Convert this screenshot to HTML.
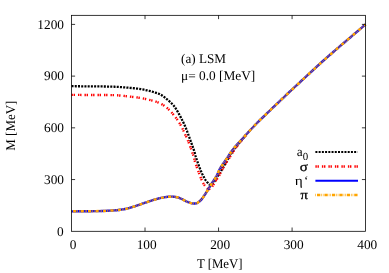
<!DOCTYPE html>
<html><head><meta charset="utf-8"><title>chart</title>
<style>
html,body{margin:0;padding:0;background:#fff;}
svg{display:block;will-change:transform;}
text{text-rendering:geometricPrecision;font-family:"Liberation Serif",serif;font-size:13.33px;fill:#000;}
</style></head><body>
<svg width="389" height="273" viewBox="0 0 389 273">
<rect width="389" height="273" fill="#fff"/>
<g fill="none" stroke-width="2" stroke-linejoin="round">
<path d="M71.50,86.20 L75.72,86.23 L81.74,86.28 L88.79,86.33 L96.04,86.39 L102.72,86.46 L108.00,86.55 L111.79,86.64 L114.70,86.74 L117.02,86.85 L119.05,86.98 L121.08,87.13 L123.40,87.30 L126.04,87.50 L128.76,87.73 L131.48,87.98 L134.12,88.25 L136.59,88.52 L138.80,88.80 L140.74,89.08 L142.47,89.38 L144.03,89.69 L145.46,90.00 L146.80,90.30 L148.10,90.60 L149.31,90.88 L150.40,91.16 L151.40,91.42 L152.36,91.70 L153.31,91.99 L154.30,92.30 L155.32,92.61 L156.34,92.92 L157.36,93.24 L158.38,93.59 L159.39,94.01 L160.40,94.50 L161.40,95.08 L162.39,95.72 L163.38,96.42 L164.37,97.17 L165.37,97.97 L166.40,98.80 L167.49,99.70 L168.63,100.67 L169.79,101.69 L170.91,102.72 L171.97,103.73 L172.90,104.70 L173.69,105.60 L174.37,106.45 L174.97,107.29 L175.53,108.14 L176.10,109.03 L176.70,110.00 L177.34,111.07 L178.00,112.23 L178.66,113.42 L179.30,114.63 L179.92,115.80 L180.50,116.90 L181.04,117.91 L181.54,118.87 L182.02,119.80 L182.48,120.71 L182.94,121.64 L183.40,122.60 L183.86,123.58 L184.31,124.56 L184.76,125.56 L185.21,126.57 L185.65,127.62 L186.10,128.70 L186.54,129.81 L186.97,130.93 L187.40,132.07 L187.84,133.27 L188.30,134.54 L188.80,135.90 L189.35,137.41 L189.96,139.07 L190.58,140.80 L191.20,142.52 L191.78,144.15 L192.30,145.60 L192.75,146.86 L193.14,147.98 L193.51,149.01 L193.84,149.99 L194.17,150.97 L194.50,152.00 L194.79,153.00 L195.03,153.91 L195.26,154.82 L195.51,155.82 L195.85,156.99 L196.30,158.40 L196.90,160.16 L197.61,162.23 L198.39,164.47 L199.21,166.73 L200.03,168.89 L200.80,170.80 L201.54,172.49 L202.28,174.08 L203.02,175.56 L203.74,176.92 L204.44,178.17 L205.10,179.30 L205.74,180.30 L206.36,181.16 L206.96,181.91 L207.53,182.55 L208.04,183.11 L208.50,183.60 L208.88,184.00 L209.19,184.30 L209.45,184.52 L209.69,184.66 L209.93,184.75 L210.20,184.80 L210.49,184.80 L210.77,184.74 L211.06,184.63 L211.36,184.47 L211.67,184.25 L212.00,184.00 L212.34,183.71 L212.70,183.39 L213.06,183.01 L213.45,182.58 L213.86,182.08 L214.30,181.50 L214.77,180.82 L215.27,180.06 L215.80,179.22 L216.35,178.33 L216.92,177.42 L217.50,176.50 L218.09,175.61 L218.67,174.74 L219.28,173.84 L219.93,172.87 L220.63,171.77 L221.40,170.50 L222.26,169.01 L223.18,167.34 L224.16,165.55 L225.19,163.69 L226.24,161.82 L227.30,160.00 L228.39,158.19 L229.53,156.33 L230.70,154.46 L231.88,152.62 L233.05,150.85 L234.20,149.20 L235.35,147.66 L236.51,146.20 L237.66,144.81 L238.79,143.48 L239.88,142.22 L240.90,141.00 L241.90,139.79 L242.91,138.59 L243.87,137.44 L244.74,136.40 L245.46,135.54 L246.00,134.90" stroke="#000" stroke-width="2.3" stroke-dasharray="2.05 1.18"/>
<path d="M71.50,94.90 L76.11,94.91 L82.74,94.93 L90.48,94.95 L98.38,94.98 L105.53,95.03 L111.00,95.10 L114.60,95.19 L117.03,95.29 L118.71,95.40 L120.05,95.54 L121.47,95.70 L123.40,95.90 L125.86,96.14 L128.54,96.42 L131.29,96.73 L134.01,97.06 L136.55,97.38 L138.80,97.70 L140.74,98.02 L142.47,98.34 L144.03,98.67 L145.46,98.99 L146.80,99.31 L148.10,99.60 L149.31,99.86 L150.40,100.10 L151.40,100.32 L152.36,100.55 L153.31,100.80 L154.30,101.10 L155.33,101.43 L156.35,101.79 L157.38,102.16 L158.39,102.57 L159.40,103.01 L160.40,103.50 L161.40,104.03 L162.40,104.61 L163.39,105.22 L164.36,105.86 L165.30,106.52 L166.20,107.20 L167.05,107.90 L167.86,108.61 L168.64,109.36 L169.40,110.12 L170.15,110.90 L170.90,111.70 L171.65,112.53 L172.38,113.38 L173.11,114.25 L173.82,115.13 L174.52,116.02 L175.20,116.90 L175.87,117.78 L176.53,118.66 L177.18,119.54 L177.81,120.42 L178.42,121.31 L179.00,122.20 L179.55,123.09 L180.07,123.97 L180.56,124.85 L181.04,125.74 L181.52,126.66 L182.00,127.60 L182.48,128.58 L182.96,129.60 L183.42,130.63 L183.89,131.67 L184.35,132.70 L184.80,133.70 L185.25,134.67 L185.69,135.61 L186.12,136.54 L186.55,137.48 L186.97,138.43 L187.40,139.40 L187.83,140.40 L188.25,141.42 L188.68,142.46 L189.09,143.50 L189.50,144.55 L189.90,145.60 L190.29,146.66 L190.67,147.74 L191.04,148.82 L191.40,149.90 L191.75,150.97 L192.10,152.00 L192.44,153.01 L192.77,154.00 L193.10,154.97 L193.41,155.93 L193.72,156.87 L194.00,157.80 L194.23,158.65 L194.41,159.40 L194.57,160.14 L194.77,160.94 L195.03,161.90 L195.40,163.10 L195.91,164.61 L196.53,166.38 L197.22,168.30 L197.94,170.27 L198.64,172.17 L199.30,173.90 L199.91,175.49 L200.51,177.05 L201.10,178.54 L201.68,179.94 L202.24,181.24 L202.80,182.40 L203.35,183.42 L203.90,184.33 L204.44,185.12 L204.96,185.82 L205.45,186.44 L205.90,187.00 L206.31,187.48 L206.68,187.87 L207.02,188.19 L207.34,188.44 L207.67,188.64 L208.00,188.80 L208.33,188.94 L208.66,189.04 L208.97,189.09 L209.30,189.07 L209.64,188.98 L210.00,188.80 L210.38,188.53 L210.76,188.17 L211.16,187.74 L211.58,187.23 L212.03,186.65 L212.50,186.00 L213.02,185.24 L213.58,184.37 L214.16,183.43 L214.76,182.45 L215.34,181.50 L215.90,180.60 L216.43,179.79 L216.94,179.03 L217.44,178.29 L217.95,177.53 L218.46,176.71 L219.00,175.80 L219.54,174.81 L220.06,173.76 L220.60,172.66 L221.17,171.50 L221.80,170.28 L222.50,169.00 L223.29,167.64 L224.14,166.22 L225.05,164.73 L226.00,163.19 L226.99,161.61 L228.00,160.00 L229.05,158.31 L230.16,156.54 L231.29,154.72 L232.44,152.91 L233.59,151.15 L234.70,149.50 L235.80,147.94 L236.91,146.43 L238.01,144.97 L239.09,143.58 L240.12,142.25 L241.10,141.00 L242.06,139.77 L243.03,138.56 L243.95,137.42 L244.79,136.39 L245.48,135.54 L246.00,134.90" stroke="#f00" stroke-width="2.4" stroke-dasharray="1.4 0.7 1.4 3"/>
<path d="M71.50,211.35 L74.61,211.33 L79.03,211.30 L84.21,211.27 L89.60,211.23 L94.66,211.17 L98.85,211.10 L102.23,211.00 L105.24,210.88 L107.93,210.74 L110.31,210.60 L112.43,210.47 L114.30,210.35 L115.79,210.26 L116.85,210.18 L117.63,210.12 L118.31,210.04 L119.05,209.94 L120.00,209.80 L121.17,209.63 L122.42,209.43 L123.72,209.21 L125.06,208.96 L126.39,208.70 L127.70,208.40 L128.98,208.07 L130.27,207.71 L131.55,207.33 L132.83,206.93 L134.12,206.52 L135.40,206.10 L136.68,205.67 L137.96,205.23 L139.24,204.77 L140.53,204.31 L141.81,203.85 L143.10,203.40 L144.40,202.96 L145.70,202.51 L147.00,202.08 L148.30,201.64 L149.60,201.21 L150.90,200.80 L152.19,200.39 L153.47,199.98 L154.76,199.58 L156.04,199.20 L157.32,198.83 L158.60,198.50 L159.92,198.19 L161.28,197.90 L162.64,197.63 L163.96,197.39 L165.20,197.17 L166.30,197.00 L167.25,196.87 L168.06,196.77 L168.79,196.71 L169.48,196.68 L170.17,196.66 L170.90,196.65 L171.67,196.65 L172.43,196.66 L173.19,196.69 L173.96,196.75 L174.73,196.83 L175.50,196.95 L176.26,197.09 L177.00,197.25 L177.74,197.44 L178.50,197.67 L179.32,197.96 L180.20,198.30 L181.19,198.74 L182.27,199.29 L183.41,199.88 L184.54,200.48 L185.62,201.04 L186.60,201.50 L187.49,201.87 L188.32,202.20 L189.11,202.47 L189.84,202.71 L190.54,202.92 L191.20,203.10 L191.80,203.25 L192.34,203.36 L192.84,203.44 L193.32,203.49 L193.80,203.51 L194.30,203.50 L194.81,203.47 L195.31,203.44 L195.80,203.37 L196.31,203.25 L196.84,203.07 L197.40,202.80 L198.00,202.45 L198.63,202.03 L199.28,201.54 L199.94,200.99 L200.60,200.38 L201.25,199.70 L201.89,198.94 L202.53,198.10 L203.17,197.19 L203.81,196.24 L204.46,195.27 L205.10,194.30 L205.75,193.31 L206.40,192.29 L207.05,191.25 L207.71,190.20 L208.36,189.14 L209.00,188.10 L209.64,187.07 L210.27,186.03 L210.90,184.99 L211.53,183.96 L212.16,182.93 L212.80,181.90 L213.45,180.89 L214.11,179.91 L214.77,178.93 L215.43,177.93 L216.07,176.89 L216.70,175.80 L217.28,174.66 L217.80,173.49 L218.31,172.29 L218.86,171.04 L219.47,169.75 L220.20,168.40 L221.06,167.00 L222.01,165.54 L223.03,164.04 L224.10,162.49 L225.20,160.91 L226.30,159.30 L227.42,157.61 L228.58,155.84 L229.77,154.03 L230.96,152.23 L232.16,150.50 L233.35,148.90 L234.54,147.42 L235.76,146.01 L236.97,144.68 L238.16,143.41 L239.31,142.18 L240.40,141.00 L241.42,139.87 L242.39,138.79 L243.31,137.76 L244.20,136.78 L245.06,135.83 L245.90,134.90 L246.70,134.02 L247.44,133.21 L248.15,132.43 L248.86,131.66 L249.60,130.85 L250.40,130.00 L251.29,129.05 L252.26,128.02 L253.26,126.96 L254.24,125.94 L255.13,125.00 L255.90,124.20 L256.44,123.64 L256.79,123.28 L257.06,123.01 L257.37,122.70 L257.85,122.24 L258.60,121.50 L259.65,120.47 L260.91,119.23 L262.34,117.83 L263.87,116.33 L265.48,114.77 L267.10,113.20 L268.81,111.56 L270.66,109.79 L272.58,107.96 L274.49,106.14 L276.32,104.40 L278.00,102.80 L279.48,101.39 L280.81,100.12 L282.06,98.93 L283.29,97.76 L284.58,96.53 L286.00,95.20 L287.55,93.75 L289.19,92.23 L290.88,90.66 L292.59,89.06 L294.31,87.47 L296.00,85.90 L297.68,84.34 L299.37,82.76 L301.06,81.19 L302.74,79.63 L304.39,78.09 L306.00,76.60 L307.56,75.16 L309.07,73.76 L310.56,72.38 L312.04,71.02 L313.51,69.67 L315.00,68.30 L316.51,66.91 L318.04,65.51 L319.56,64.12 L321.07,62.74 L322.56,61.40 L324.00,60.10 L325.39,58.86 L326.74,57.67 L328.06,56.52 L329.37,55.38 L330.68,54.25 L332.00,53.10 L333.28,51.99 L334.51,50.93 L335.73,49.87 L337.01,48.76 L338.42,47.56 L340.00,46.20 L341.79,44.67 L343.74,43.00 L345.82,41.23 L347.97,39.39 L350.14,37.54 L352.30,35.70 L354.61,33.73 L357.15,31.57 L359.72,29.39 L362.11,27.36 L364.14,25.64 L365.60,24.40" stroke="#00f" stroke-width="2.4"/>
<path d="M71.50,211.35 L74.61,211.33 L79.03,211.30 L84.21,211.27 L89.60,211.23 L94.66,211.17 L98.85,211.10 L102.23,211.00 L105.24,210.88 L107.93,210.74 L110.31,210.60 L112.43,210.47 L114.30,210.35 L115.79,210.26 L116.85,210.18 L117.63,210.12 L118.31,210.04 L119.05,209.94 L120.00,209.80 L121.17,209.63 L122.42,209.43 L123.72,209.21 L125.06,208.96 L126.39,208.70 L127.70,208.40 L128.98,208.07 L130.27,207.71 L131.55,207.33 L132.83,206.93 L134.12,206.52 L135.40,206.10 L136.68,205.67 L137.96,205.23 L139.24,204.77 L140.53,204.31 L141.81,203.85 L143.10,203.40 L144.40,202.96 L145.70,202.51 L147.00,202.08 L148.30,201.64 L149.60,201.21 L150.90,200.80 L152.19,200.39 L153.47,199.98 L154.76,199.58 L156.04,199.20 L157.32,198.83 L158.60,198.50 L159.92,198.19 L161.28,197.90 L162.64,197.63 L163.96,197.39 L165.20,197.17 L166.30,197.00 L167.25,196.87 L168.06,196.77 L168.79,196.71 L169.48,196.68 L170.17,196.66 L170.90,196.65 L171.67,196.65 L172.43,196.66 L173.19,196.69 L173.96,196.75 L174.73,196.83 L175.50,196.95 L176.26,197.09 L177.00,197.25 L177.74,197.44 L178.50,197.67 L179.32,197.96 L180.20,198.30 L181.19,198.74 L182.27,199.29 L183.41,199.88 L184.54,200.48 L185.62,201.04 L186.60,201.50 L187.49,201.87 L188.32,202.20 L189.11,202.47 L189.84,202.71 L190.54,202.92 L191.20,203.10 L191.80,203.25 L192.34,203.36 L192.84,203.44 L193.32,203.49 L193.80,203.51 L194.30,203.50 L194.81,203.47 L195.31,203.44 L195.80,203.37 L196.31,203.25 L196.84,203.07 L197.40,202.80 L198.00,202.45 L198.63,202.03 L199.28,201.54 L199.94,200.99 L200.60,200.38 L201.25,199.70 L201.89,198.94 L202.53,198.10 L203.17,197.19 L203.81,196.24 L204.46,195.27 L205.10,194.30 L205.75,193.31 L206.40,192.29 L207.05,191.25 L207.71,190.20 L208.36,189.14 L209.00,188.10 L209.64,187.07 L210.27,186.03 L210.90,184.99 L211.53,183.96 L212.16,182.93 L212.80,181.90 L213.45,180.89 L214.11,179.91 L214.77,178.93 L215.43,177.93 L216.07,176.89 L216.70,175.80 L217.28,174.66 L217.80,173.49 L218.31,172.29 L218.86,171.04 L219.47,169.75 L220.20,168.40 L221.06,167.00 L222.01,165.54 L223.03,164.04 L224.10,162.49 L225.20,160.91 L226.30,159.30 L227.42,157.61 L228.58,155.84 L229.77,154.03 L230.96,152.23 L232.16,150.50 L233.35,148.90 L234.54,147.42 L235.76,146.01 L236.97,144.68 L238.16,143.41 L239.31,142.18 L240.40,141.00 L241.42,139.87 L242.39,138.79 L243.31,137.76 L244.20,136.78 L245.06,135.83 L245.90,134.90 L246.70,134.02 L247.44,133.21 L248.15,132.43 L248.86,131.66 L249.60,130.85 L250.40,130.00 L251.29,129.05 L252.26,128.02 L253.26,126.96 L254.24,125.94 L255.13,125.00 L255.90,124.20 L256.44,123.64 L256.79,123.28 L257.06,123.01 L257.37,122.70 L257.85,122.24 L258.60,121.50 L259.65,120.47 L260.91,119.23 L262.34,117.83 L263.87,116.33 L265.48,114.77 L267.10,113.20 L268.81,111.56 L270.66,109.79 L272.58,107.96 L274.49,106.14 L276.32,104.40 L278.00,102.80 L279.48,101.39 L280.81,100.12 L282.06,98.93 L283.29,97.76 L284.58,96.53 L286.00,95.20 L287.55,93.75 L289.19,92.23 L290.88,90.66 L292.59,89.06 L294.31,87.47 L296.00,85.90 L297.68,84.34 L299.37,82.76 L301.06,81.19 L302.74,79.63 L304.39,78.09 L306.00,76.60 L307.56,75.16 L309.07,73.76 L310.56,72.38 L312.04,71.02 L313.51,69.67 L315.00,68.30 L316.51,66.91 L318.04,65.51 L319.56,64.12 L321.07,62.74 L322.56,61.40 L324.00,60.10 L325.39,58.86 L326.74,57.67 L328.06,56.52 L329.37,55.38 L330.68,54.25 L332.00,53.10 L333.28,51.99 L334.51,50.93 L335.73,49.87 L337.01,48.76 L338.42,47.56 L340.00,46.20 L341.79,44.67 L343.74,43.00 L345.82,41.23 L347.97,39.39 L350.14,37.54 L352.30,35.70 L354.61,33.73 L357.15,31.57 L359.72,29.39 L362.11,27.36 L364.14,25.64 L365.60,24.40" stroke="#ffa500" stroke-width="2.5" stroke-dasharray="0.6 1.0 3.3 1.0 0.6 0.95"/>
<path d="M315.4,152.05 H357.6" stroke="#000" stroke-dasharray="2 1.23"/>
<path d="M315.4,166.5 H358" stroke-width="2.3" stroke="#f00" stroke-dasharray="1.4 0.7 1.4 3"/>
<path d="M315.4,180.8 H358" stroke="#00f"/>
<path d="M315.4,194.95 H357.6" stroke-width="2.4" stroke="#ffa500" stroke-dasharray="0.6 1.0 3.3 1.0 0.6 0.95"/>
</g>
<g fill="none" stroke="#000" stroke-width="0.78">
<rect x="71.50" y="15.33" width="294.00" height="215.97"/>
<path d="M71.50,24.40 h3.6 M365.50,24.40 h-3.6 M71.50,76.12 h3.6 M365.50,76.12 h-3.6 M71.50,127.84 h3.6 M365.50,127.84 h-3.6 M71.50,179.56 h3.6 M365.50,179.56 h-3.6 M145.03,231.30 v-3.8 M145.03,15.33 v3.8 M218.56,231.30 v-3.8 M218.56,15.33 v3.8 M292.09,231.30 v-3.8 M292.09,15.33 v3.8 "/>
</g>
<text transform="translate(64.00,28.90) scale(1.000,1.000)" text-anchor="end">1200</text>
<text transform="translate(64.00,80.12) scale(1.000,1.000)" text-anchor="end">900</text>
<text transform="translate(64.00,132.34) scale(1.000,1.000)" text-anchor="end">600</text>
<text transform="translate(64.00,184.06) scale(1.000,1.000)" text-anchor="end">300</text>
<text transform="translate(63.70,235.58) scale(1.000,1.000)" text-anchor="end">0</text>
<text transform="translate(73.10,248.65) scale(1.000,1.000)" text-anchor="middle">0</text>
<text transform="translate(146.63,248.65) scale(1.000,1.000)" text-anchor="middle">100</text>
<text transform="translate(220.16,248.65) scale(1.000,1.000)" text-anchor="middle">200</text>
<text transform="translate(293.69,248.65) scale(1.000,1.000)" text-anchor="middle">300</text>
<text transform="translate(367.22,248.65) scale(1.000,1.000)" text-anchor="middle">400</text>
<text transform="translate(219.70,268.00) scale(0.961,1.000)" text-anchor="middle">T [MeV]</text>
<text transform="translate(15.00,125.65) rotate(-90) scale(0.972,1.000)" text-anchor="middle">M [MeV]</text>
<text transform="translate(181.00,62.80) scale(0.988,1.000)" text-anchor="start">(a) LSM</text>
<text transform="translate(181.00,80.20) scale(1.000,1.000)" text-anchor="start">μ= 0.0 [MeV]</text>
<text transform="translate(308.20,155.50) scale(1.000,1.000)" text-anchor="end">a<tspan font-size="10.9px" dy="4.1">0</tspan></text>
<text transform="translate(307.80,170.50) scale(1.120,1.000)" text-anchor="end" stroke="#000" stroke-width="0.3">σ</text>
<text transform="translate(302.80,185.00) scale(1.150,1.000)" text-anchor="end">η</text>
<text transform="translate(304.00,185.00) scale(1.000,1.000)" text-anchor="start">‘</text>
<text transform="translate(307.80,199.00) scale(1.100,1.000)" text-anchor="end" stroke="#000" stroke-width="0.3">π</text>
</svg>
</body></html>
